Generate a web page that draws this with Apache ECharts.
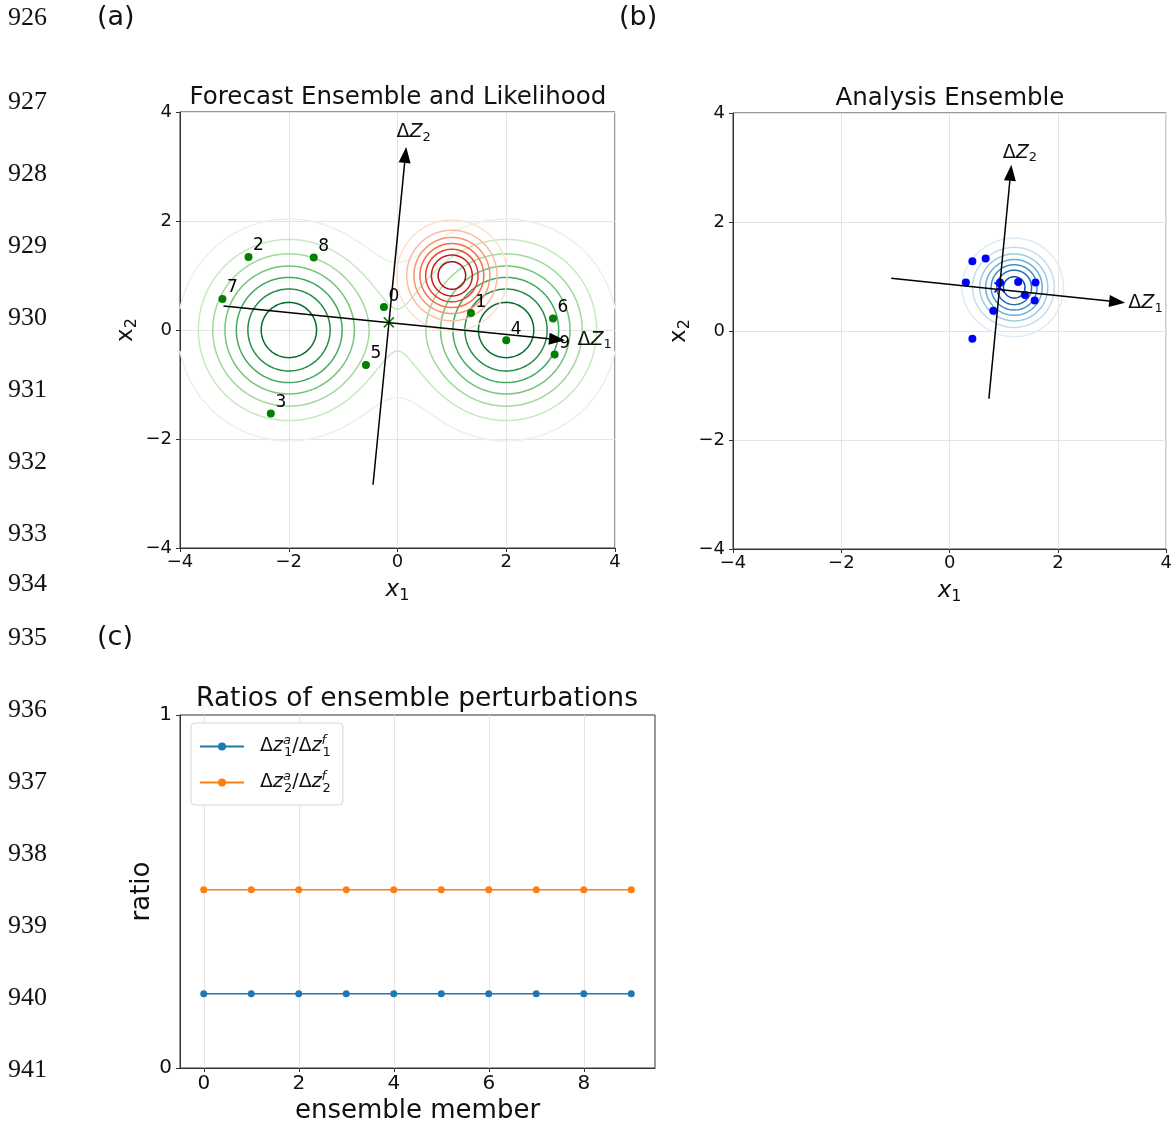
<!DOCTYPE html>
<html><head><meta charset="utf-8">
<script src="https://cdn.jsdelivr.net/npm/echarts@6/dist/echarts.min.js"></script>
<style>html,body{margin:0;padding:0;background:#fff;}#chart{width:1175px;height:1126px;}</style>
</head><body><div id="chart"></div>
<script>
// ---------------- DATA ----------------
const lineNumbers = ['926','927','928','929','930','931','932','933','934','935','936','937','938','939','940','941'];
const memberLabels = ['0','1','2','3','4','5','6','7','8','9'];
const members = [0,1,2,3,4,5,6,7,8,9];
// forecast ensemble (panel a)
const forecastX = [-0.25, 1.35, -2.74, -2.33, 2.00, -0.58, 2.86, -3.22, -1.54, 2.89];
const forecastY = [ 0.42, 0.31,  1.34, -1.53, -0.19, -0.64, 0.21,  0.57,  1.33, -0.45];
const forecastMean = [-0.16, 0.14];
// analysis ensemble (panel b)
const analysisX = [0.93, 1.39, 0.42, 0.42, 1.57, 0.805, 1.585, 0.30, 0.665, 1.265];
const analysisY = [0.89, 0.66, 1.28, -0.14, 0.56, 0.37, 0.89, 0.89, 1.33, 0.90];
const analysisMean = [0.92, 0.80];
// perturbation-direction arrows [x0, y0, x1(tip), y1(tip)]
const forecastArrows = [[-3.20, 0.44, 3.08, -0.19], [-0.45, -2.84, 0.16, 3.36]];
const analysisArrows = [[-1.08, 0.97, 3.24, 0.52], [0.725, -1.24, 1.14, 3.05]];
const arrowNames = ['1', '2'];
const forecastArrowLabelAt = [[3.31, -0.18], [-0.02, 3.63]];
const analysisArrowLabelAt = [[3.30, 0.51], [0.98, 3.27]];
// density model used for the contours
const priorMeans = [[-2, 0], [2, 0]];
const priorWeights = [0.5, 0.5];
const priorSigma = 1.0;
const obsMean = [1, 1];
const obsSigma = 0.5;
const priorLevels = [0.01, 0.02, 0.03, 0.04, 0.05, 0.06, 0.07];
const likLevels = [0.08, 0.16, 0.24, 0.32, 0.40, 0.48, 0.56];
const postLevels = [0.1, 0.2, 0.3, 0.4, 0.5, 0.6, 0.7];
// ratios (panel c)
const ratioZ1 = [0.21, 0.21, 0.21, 0.21, 0.21, 0.21, 0.21, 0.21, 0.21, 0.21];
const ratioZ2 = [0.505, 0.505, 0.505, 0.505, 0.505, 0.505, 0.505, 0.505, 0.505, 0.505];
const xyTicks = [-4, -2, 0, 2, 4];
const memberTicks = [0, 2, 4, 6, 8];
const ratioTicks = [0, 1];

// ---------------- STYLE / LAYOUT ----------------
const GREENS = ['#f7fcf5','#e5f5e0','#c7e9c0','#a1d99b','#74c476','#41ab5d','#238b45','#006d2c','#00441b'];
const REDS   = ['#fff5f0','#fee0d2','#fcbba1','#fc9272','#fb6a4a','#ef3b2c','#cb181d','#a50f15','#67000d'];
const BLUES  = ['#f7fbff','#deebf7','#c6dbef','#9ecae1','#6baed6','#4292c6','#2171b5','#08519c','#08306b'];
const lineNumberY = [18,102,174,246,318,390,462,534,584,638,710,782,854,926,998,1070];
const FONT = 'DejaVu Sans';

// ---------------- DENSITIES ----------------
function gauss(x, y, m, s) {
  const dx = x - m[0], dy = y - m[1];
  return Math.exp(-(dx*dx + dy*dy) / (2*s*s)) / (2*Math.PI*s*s);
}
function prior(x, y) { return priorWeights[0]*gauss(x,y,priorMeans[0],priorSigma) + priorWeights[1]*gauss(x,y,priorMeans[1],priorSigma); }
function lik(x, y) { return gauss(x, y, obsMean, obsSigma); }

const NG = 321;
const gx = [], gy = [];
for (let i = 0; i < NG; i++) { gx.push(-4 + 8*i/(NG-1)); gy.push(-4 + 8*i/(NG-1)); }
function field(fn) { const f = []; for (let j = 0; j < NG; j++) { const r = []; for (let i = 0; i < NG; i++) r.push(fn(gx[i], gy[j])); f.push(r); } return f; }
const fPrior = field(prior);
const fLik = field(lik);
const fProd = field((x, y) => prior(x, y) * lik(x, y));
let Z = 0; const cell = (8/(NG-1))*(8/(NG-1));
for (let j = 0; j < NG; j++) for (let i = 0; i < NG; i++) Z += fProd[j][i]*cell;
const fPost = fProd.map(r => r.map(v => v / Z));

function contour(f, level) {
  const pts = {}, adj = {};
  function ep(key, x1, y1, v1, x2, y2, v2) {
    if (!pts[key]) { const t = (level - v1) / (v2 - v1); pts[key] = [x1 + t*(x2-x1), y1 + t*(y2-y1)]; }
    return key;
  }
  function seg(a, b) { (adj[a] = adj[a] || []).push(b); (adj[b] = adj[b] || []).push(a); }
  for (let j = 0; j < NG-1; j++) for (let i = 0; i < NG-1; i++) {
    const v0 = f[j][i], v1 = f[j][i+1], v2 = f[j+1][i+1], v3 = f[j+1][i];
    const idx = (v0 > level ? 1 : 0) | (v1 > level ? 2 : 0) | (v2 > level ? 4 : 0) | (v3 > level ? 8 : 0);
    if (idx === 0 || idx === 15) continue;
    const x0 = gx[i], x1 = gx[i+1], y0 = gy[j], y1 = gy[j+1];
    const B = () => ep('h'+i+'_'+j, x0, y0, v0, x1, y0, v1);
    const R = () => ep('v'+(i+1)+'_'+j, x1, y0, v1, x1, y1, v2);
    const T = () => ep('h'+i+'_'+(j+1), x0, y1, v3, x1, y1, v2);
    const L = () => ep('v'+i+'_'+j, x0, y0, v0, x0, y1, v3);
    const c = (v0+v1+v2+v3)/4 > level;
    switch (idx) {
      case 1: case 14: seg(L(), B()); break;
      case 2: case 13: seg(B(), R()); break;
      case 3: case 12: seg(L(), R()); break;
      case 4: case 11: seg(R(), T()); break;
      case 6: case 9: seg(B(), T()); break;
      case 7: case 8: seg(L(), T()); break;
      case 5: if (c) { seg(L(), T()); seg(B(), R()); } else { seg(L(), B()); seg(R(), T()); } break;
      case 10: if (c) { seg(L(), B()); seg(R(), T()); } else { seg(B(), R()); seg(L(), T()); } break;
    }
  }
  const used = new Set(), lines = [];
  function walk(start) {
    const line = [pts[start]]; used.add(start); let cur = start;
    while (true) {
      const nxt = adj[cur].find(k => !used.has(k));
      if (!nxt) { if (adj[cur].includes(start) && line.length > 2) line.push(pts[start]); break; }
      used.add(nxt); line.push(pts[nxt]); cur = nxt;
    }
    lines.push(line);
  }
  for (const k in adj) if (adj[k].length === 1 && !used.has(k)) walk(k);
  for (const k in adj) if (!used.has(k)) walk(k);
  return lines;
}

function contourSeries(f, levels, cmap, gridIdx, z) {
  return levels.map((lv, k) => ({
    type: 'lines', coordinateSystem: 'cartesian2d', xAxisIndex: gridIdx, yAxisIndex: gridIdx,
    polyline: true, silent: true, z: z,
    lineStyle: { color: cmap[k+1], width: 1.5, opacity: 1 },
    data: contour(f, lv).map(l => ({ coords: l }))
  }));
}

const minus = v => String(v).replace('-', '\u2212');

function arrowRender(params, api) {
  const p1 = api.coord([api.value(0), api.value(1)]);
  const p2 = api.coord([api.value(2), api.value(3)]);
  const dx = p2[0]-p1[0], dy = p2[1]-p1[1], len = Math.hypot(dx, dy);
  const ux = dx/len, uy = dy/len, hl = 16, hw = 6;
  const bx = p2[0]-ux*hl, by = p2[1]-uy*hl;
  return { type: 'group', children: [
    { type: 'line', shape: { x1: p1[0], y1: p1[1], x2: bx, y2: by }, style: { stroke: '#000', lineWidth: 1.5 } },
    { type: 'polygon', shape: { points: [[p2[0], p2[1]], [bx - uy*hw, by + ux*hw], [bx + uy*hw, by - ux*hw]] }, style: { fill: '#000' } }
  ]};
}

const deltaRich = {
  d: { fontSize: 19, fontFamily: FONT, color: '#111' },
  z: { fontSize: 19, fontFamily: FONT, fontStyle: 'italic', color: '#111' },
  s: { fontSize: 13, fontFamily: FONT, color: '#111', padding: [10, 0, 0, 0] }
};

function axisCommon(extra) {
  return Object.assign({
    type: 'value',
    axisLine: { show: true, onZero: false, lineStyle: { color: '#333', width: 1 } },
    axisTick: { show: true, length: 4, lineStyle: { color: '#333' } },
    splitLine: { show: true, lineStyle: { color: '#e4e4e4', width: 1 } },
    axisLabel: { fontSize: 18, fontFamily: FONT, color: '#111', formatter: minus }
  }, extra);
}
const xName = { fontSize: 23, fontFamily: FONT, color: '#111', rich: {
  i: { fontSize: 23, fontFamily: FONT, fontStyle: 'italic', color: '#111' },
  s: { fontSize: 16, fontFamily: FONT, color: '#111', padding: [12, 0, 0, 0] } } };
const yName = { fontSize: 23, fontFamily: FONT, color: '#111', rich: {
  u: { fontSize: 23, fontFamily: FONT, color: '#111' },
  s: { fontSize: 16, fontFamily: FONT, color: '#111', padding: [12, 0, 0, 0] } } };

const legendNames = ['dz1', 'dz2'];
const legendText = {
  dz1: 'Δ{i|z}{sup|a}{sub|1}/Δ{i|z}{sup|f}{sub|1}',
  dz2: 'Δ{i|z}{sup|a}{sub|2}/Δ{i|z}{sup|f}{sub|2}'
};

const graphics = [];
lineNumbers.forEach((t, i) => graphics.push({ type: 'text', silent: true, style: {
  text: t, x: 8, y: lineNumberY[i], font: '26px "Liberation Serif"', fill: '#111',
  align: 'left', verticalAlign: 'middle', textAlign: 'left', textVerticalAlign: 'middle' } }));
[['(a)', 97, 18], ['(b)', 619, 18], ['(c)', 97, 638]].forEach(p => graphics.push({ type: 'text', silent: true, style: {
  text: p[0], x: p[1], y: p[2], font: '27px "DejaVu Sans"', fill: '#111',
  align: 'left', verticalAlign: 'middle', textAlign: 'left', textVerticalAlign: 'middle' } }));
[['Forecast Ensemble and Likelihood', 398, 98, 24.5], ['Analysis Ensemble', 950, 99, 24.5], ['Ratios of ensemble perturbations', 417, 699, 26.5]].forEach(p => graphics.push({ type: 'text', silent: true, style: {
  text: p[0], x: p[1], y: p[2], font: p[3] + 'px "DejaVu Sans"', fill: '#111',
  align: 'center', verticalAlign: 'middle', textAlign: 'center', textVerticalAlign: 'middle' } }));

const option = {
  animation: false,
  textStyle: { fontFamily: FONT },
  grid: [
    { left: 180, top: 112, width: 435, height: 436, show: true, borderColor: '#333', borderWidth: 1 },
    { left: 733, top: 113, width: 435, height: 436, show: true, borderColor: '#333', borderWidth: 1 },
    { left: 180, top: 715, width: 475, height: 353, show: true, borderColor: '#333', borderWidth: 1 }
  ],
  xAxis: [
    axisCommon({ gridIndex: 0, min: -4, max: 4, interval: 2, name: '{i|x}{s|1}', nameLocation: 'middle', nameGap: 28, nameTextStyle: xName, axisLabel: { fontSize: 18, fontFamily: FONT, color: '#111', formatter: minus, margin: 5 } }),
    axisCommon({ gridIndex: 1, min: -4, max: 4, interval: 2, name: '{i|x}{s|1}', nameLocation: 'middle', nameGap: 28, nameTextStyle: xName, axisLabel: { fontSize: 18, fontFamily: FONT, color: '#111', formatter: minus, margin: 5 } }),
    axisCommon({ gridIndex: 2, min: -0.5, max: 9.5, minInterval: 2, maxInterval: 2, name: 'ensemble member', nameLocation: 'middle', nameGap: 30,
      nameTextStyle: { fontSize: 26, fontFamily: FONT, color: '#111' },
      axisTick: { show: true, length: 4, lineStyle: { color: '#333' }, customValues: memberTicks },
      axisLabel: { fontSize: 20, fontFamily: FONT, color: '#111', margin: 6, customValues: memberTicks } })
  ],
  yAxis: [
    axisCommon({ gridIndex: 0, min: -4, max: 4, interval: 2, name: '{u|x}{s|2}', nameLocation: 'middle', nameGap: 40, nameTextStyle: yName, axisLabel: { fontSize: 18, fontFamily: FONT, color: '#111', formatter: minus, margin: 8 } }),
    axisCommon({ gridIndex: 1, min: -4, max: 4, interval: 2, name: '{u|x}{s|2}', nameLocation: 'middle', nameGap: 40, nameTextStyle: yName, axisLabel: { fontSize: 18, fontFamily: FONT, color: '#111', formatter: minus, margin: 8 } }),
    axisCommon({ gridIndex: 2, min: 0, max: 1, interval: 1, name: 'ratio', nameLocation: 'middle', nameGap: 20,
      nameTextStyle: { fontSize: 26, fontFamily: FONT, color: '#111' },
      splitLine: { show: false },
      axisLabel: { fontSize: 20, fontFamily: FONT, color: '#111', margin: 8 } })
  ],
  legend: {
    data: legendNames, left: 191, top: 723, orient: 'vertical',
    itemWidth: 44, itemHeight: 10, itemGap: 11, padding: [11, 12, 10, 8],
    backgroundColor: '#fff', borderColor: '#d6d6d6', borderWidth: 1, borderRadius: 4,
    formatter: n => legendText[n],
    textStyle: { fontSize: 19, fontFamily: FONT, color: '#111', padding: [0, 0, 0, 11], rich: {
      i: { fontSize: 19, fontFamily: FONT, fontStyle: 'italic', color: '#111' },
      sup: { fontSize: 13, fontFamily: FONT, fontStyle: 'italic', color: '#111', padding: [0, 0, 12, 0], width: 1 },
      sub: { fontSize: 13, fontFamily: FONT, color: '#111', padding: [12, 0, 0, 0] } } }
  },
  graphic: { elements: graphics },
  series: [
    ...contourSeries(fPrior, priorLevels, GREENS, 0, 1),
    ...contourSeries(fLik, likLevels, REDS, 0, 2),
    ...contourSeries(fPost, postLevels, BLUES, 1, 1),
    { type: 'scatter', xAxisIndex: 0, yAxisIndex: 0, z: 5, symbolSize: 8, itemStyle: { color: '#008000', opacity: 1 },
      data: forecastX.map((x, i) => [x, forecastY[i], memberLabels[i]]),
      label: { show: true, position: 'inside', offset: [10, -11], formatter: p => p.value[2], fontSize: 17, fontFamily: FONT, color: '#000' } },
    { type: 'scatter', xAxisIndex: 1, yAxisIndex: 1, z: 5, symbolSize: 8, itemStyle: { color: '#0000ff', opacity: 1 },
      data: analysisX.map((x, i) => [x, analysisY[i]]) },
    { type: 'scatter', xAxisIndex: 0, yAxisIndex: 0, z: 6, symbol: 'path://M0,0L10,10M10,0L0,10', symbolSize: 10,
      itemStyle: { color: 'none', borderColor: '#008000', borderWidth: 1.5, opacity: 1 }, data: [forecastMean] },
    { type: 'scatter', xAxisIndex: 1, yAxisIndex: 1, z: 6, symbol: 'path://M0,0L10,10M10,0L0,10', symbolSize: 10,
      itemStyle: { color: 'none', borderColor: '#0000ff', borderWidth: 1.5, opacity: 1 }, data: [analysisMean] },
    { type: 'custom', xAxisIndex: 0, yAxisIndex: 0, z: 7, renderItem: arrowRender, encode: { x: [0, 2], y: [1, 3] }, data: forecastArrows },
    { type: 'custom', xAxisIndex: 1, yAxisIndex: 1, z: 7, renderItem: arrowRender, encode: { x: [0, 2], y: [1, 3] }, data: analysisArrows },
    { type: 'scatter', xAxisIndex: 0, yAxisIndex: 0, z: 8, symbolSize: 0, silent: true, itemStyle: { opacity: 1 },
      data: forecastArrowLabelAt.map((p, i) => [p[0], p[1], arrowNames[i]]),
      label: { show: true, position: 'right', distance: 0, formatter: p => '{d|Δ}{z|Z}{s|' + p.value[2] + '}', rich: deltaRich } },
    { type: 'scatter', xAxisIndex: 1, yAxisIndex: 1, z: 8, symbolSize: 0, silent: true, itemStyle: { opacity: 1 },
      data: analysisArrowLabelAt.map((p, i) => [p[0], p[1], arrowNames[i]]),
      label: { show: true, position: 'right', distance: 0, formatter: p => '{d|Δ}{z|Z}{s|' + p.value[2] + '}', rich: deltaRich } },
    { type: 'line', name: 'dz1', xAxisIndex: 2, yAxisIndex: 2, symbol: 'circle', symbolSize: 7,
      lineStyle: { color: '#1f77b4', width: 1.5 }, itemStyle: { color: '#1f77b4' },
      data: members.map((m, i) => [m, ratioZ1[i]]) },
    { type: 'line', name: 'dz2', xAxisIndex: 2, yAxisIndex: 2, symbol: 'circle', symbolSize: 7,
      lineStyle: { color: '#ff7f0e', width: 1.5 }, itemStyle: { color: '#ff7f0e' },
      data: members.map((m, i) => [m, ratioZ2[i]]) }
  ]
};
const chart = echarts.init(document.getElementById('chart'), null, { renderer: 'canvas', width: 1175, height: 1126 });
chart.setOption(option);
</script></body></html>
